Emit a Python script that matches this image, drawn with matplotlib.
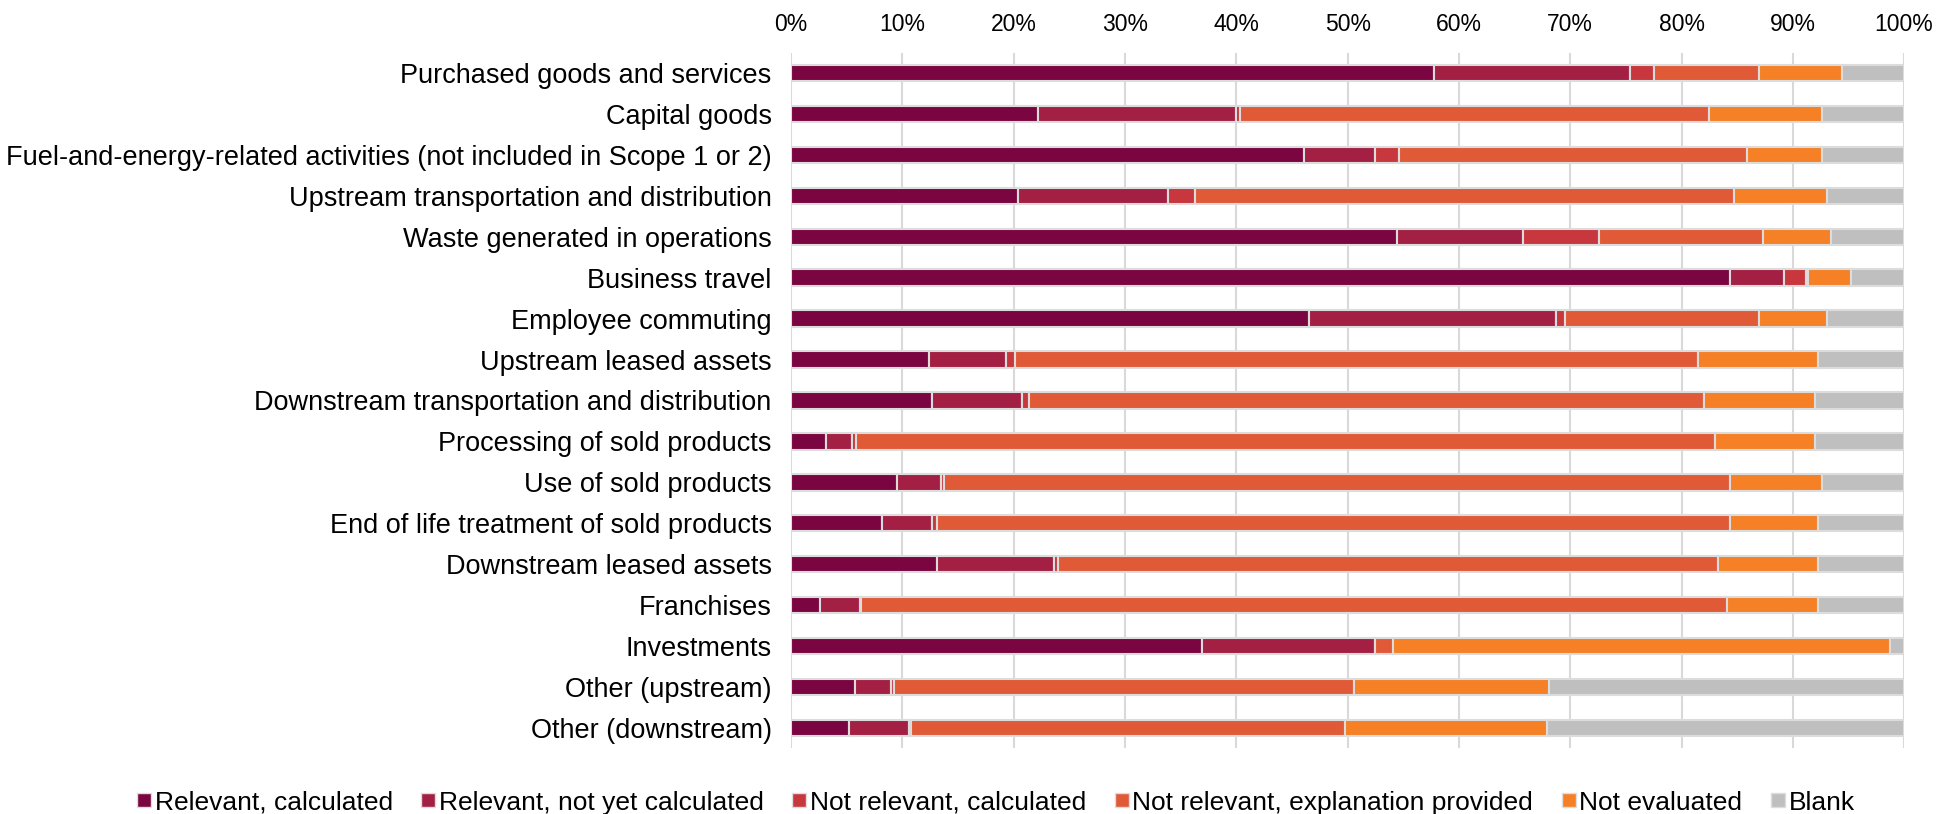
import numpy as np
import matplotlib
matplotlib.use("Agg")
import matplotlib.pyplot as plt
from matplotlib.lines import Line2D

plt.rcParams['font.family'] = ['Liberation Sans', 'DejaVu Sans']

categories = [
    'Purchased goods and services',
    'Capital goods',
    'Fuel-and-energy-related activities (not included in Scope 1 or 2)',
    'Upstream transportation and distribution',
    'Waste generated in operations',
    'Business travel',
    'Employee commuting',
    'Upstream leased assets',
    'Downstream transportation and distribution',
    'Processing of sold products',
    'Use of sold products',
    'End of life treatment of sold products',
    'Downstream leased assets',
    'Franchises',
    'Investments',
    'Other (upstream)',
    'Other (downstream)',
]

series_names = ['Relevant, calculated', 'Relevant, not yet calculated',
                'Not relevant, calculated', 'Not relevant, explanation provided',
                'Not evaluated', 'Blank']

# shares in % per category
rel_calc     = [57.8, 22.2, 46.1, 20.4, 54.4, 84.4, 46.5, 12.4, 12.7, 3.1, 9.5, 8.2, 13.1, 2.6, 36.9, 5.7, 5.2]
rel_not_calc = [17.6, 17.8, 6.4, 13.5, 11.4, 4.8, 22.2, 6.9, 8.0, 2.4, 4.0, 4.5, 10.5, 3.6, 15.6, 3.3, 5.4]
notrel_calc  = [2.1, 0.3, 2.1, 2.4, 6.8, 2.0, 0.8, 0.8, 0.7, 0.3, 0.2, 0.4, 0.4, 0.1, 0.0, 0.2, 0.2]
notrel_expl  = [9.5, 42.2, 31.3, 48.4, 14.7, 0.2, 17.5, 61.4, 60.6, 77.2, 70.7, 71.3, 59.3, 77.8, 1.6, 41.4, 39.0]
not_eval     = [7.4, 10.1, 6.7, 8.4, 6.1, 3.8, 6.1, 10.8, 10.0, 9.0, 8.2, 7.9, 9.0, 8.2, 44.6, 17.5, 18.1]
blank        = [5.6, 7.4, 7.4, 6.9, 6.6, 4.8, 6.9, 7.7, 8.0, 8.0, 7.4, 7.7, 7.7, 7.7, 1.3, 31.9, 32.1]

colors = ['#7B0541', '#A32044', '#C8373D', '#E05A38', '#F58025', '#BFBFBF']

data = np.array([rel_calc, rel_not_calc, notrel_calc, notrel_expl, not_eval, blank])
data = data / data.sum(axis=0)

fig = plt.figure(figsize=(19.39, 8.14), dpi=100)
ax = fig.add_axes([0.408, 0.0805, 0.574, 0.855])

y = np.arange(len(categories))
left = np.zeros(len(categories))
for vals, col in zip(data, colors):
    ax.barh(y, vals, left=left, height=0.40, color=col,
            edgecolor='#DCDCDC', linewidth=1.5, zorder=3)
    left = left + vals

ax.set_xlim(0, 1)
ax.set_ylim(len(categories) - 0.5, -0.5)
ax.set_yticks(y)
ax.set_yticklabels(categories, fontsize=19.5)
ax.set_xticks(np.arange(0, 1.01, 0.1))
ax.set_xticklabels(['%d%%' % v for v in range(0, 101, 10)], fontsize=16.5)
ax.xaxis.tick_top()
ax.tick_params(axis='x', length=0, pad=12)
ax.tick_params(axis='y', length=0, pad=14)
ax.grid(axis='x', color='#D9D9D9', linewidth=1.5, zorder=0)
ax.set_axisbelow(True)
for s in ax.spines.values():
    s.set_visible(False)

handles = [Line2D([], [], marker='s', linestyle='', markersize=10,
                  markerfacecolor=c, markeredgecolor='#DDDDDD', markeredgewidth=1)
           for c in colors]
fig.legend(handles, series_names, loc='lower center', bbox_to_anchor=(0.513, -0.03),
           ncol=6, frameon=False, fontsize=19, handletextpad=0.05,
           columnspacing=1.0, handlelength=0.7)

fig.savefig('out.png', dpi=100)
